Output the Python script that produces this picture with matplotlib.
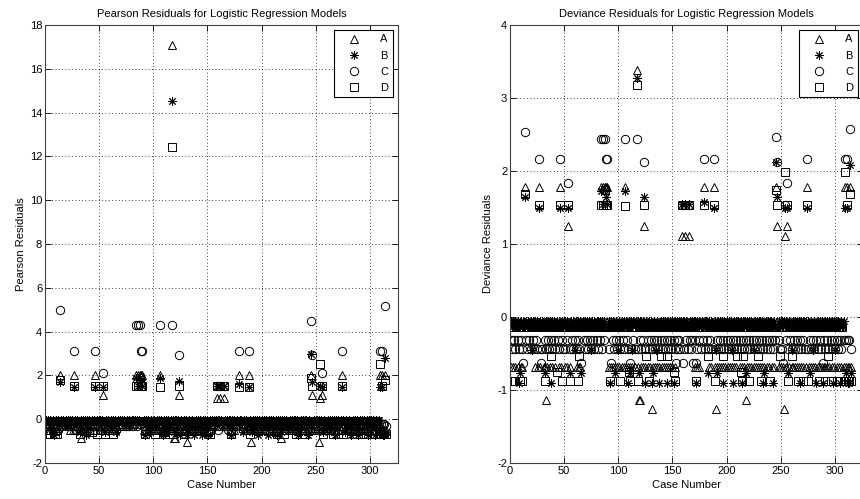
import matplotlib
matplotlib.use("Agg")
import matplotlib.pyplot as plt
import numpy as np

plt.rcParams["font.family"] = ["Liberation Sans", "DejaVu Sans"]
plt.rcParams["axes.unicode_minus"] = False

# cases with y = 1 (positive residuals), shared by both panels
pos_cases = [14, 27, 46, 54, 84, 86, 88, 89, 90, 106, 117, 124, 159, 162, 165,
             179, 188, 246, 247, 254, 256, 274, 309, 311, 314]

pear_pos_a = [2.0, 2.0, 2.0, 1.1, 2.0, 2.0, 2.0, 2.0, 2.0, 2.0, 17.1, 1.1, 0.95, 0.95, 0.95,
              2.0, 2.0, 2.0, 1.1, 0.95, 1.1, 2.0, 2.0, 2.0, 2.0]
pear_pos_b = [1.7, 1.45, 1.45, 1.45, 1.9, 1.5, 1.9, 1.8, 1.5, 1.9, 14.55, 1.75, 1.5, 1.5, 1.5,
              1.6, 1.45, 3.0, 1.7, 1.5, 1.45, 1.45, 1.45, 1.45, 2.8]
pear_pos_c = [4.97, 3.1, 3.1, 2.12, 4.28, 4.28, 4.28, 3.1, 3.1, 4.28, 4.28, 2.92, 1.5, 1.5, 1.5,
              3.1, 3.1, 4.47, 2.92, 1.5, 2.12, 3.1, 3.1, 3.1, 5.15]
pear_pos_d = [1.8, 1.5, 1.5, 1.5, 1.5, 1.5, 1.9, 1.5, 1.5, 1.48, 12.45, 1.5, 1.5, 1.5, 1.5,
              1.48, 1.48, 1.9, 1.5, 2.5, 1.5, 1.5, 2.5, 1.5, 1.8]

dev_pos_a = [1.78, 1.78, 1.78, 1.24, 1.78, 1.78, 1.78, 1.78, 1.78, 1.78, 3.39, 1.25, 1.11, 1.11, 1.11,
             1.78, 1.78, 1.78, 1.25, 1.11, 1.25, 1.78, 1.78, 1.78, 1.78]
dev_pos_b = [1.64, 1.49, 1.49, 1.49, 1.72, 1.55, 1.74, 1.64, 1.55, 1.73, 3.28, 1.65, 1.55, 1.55, 1.55,
             1.58, 1.49, 2.13, 1.65, 1.49, 1.49, 1.49, 1.49, 1.49, 2.08]
dev_pos_c = [2.54, 2.16, 2.16, 1.84, 2.44, 2.44, 2.44, 2.16, 2.16, 2.44, 2.44, 2.13, 1.53, 1.53, 1.53,
             2.16, 2.16, 2.47, 2.13, 1.53, 1.84, 2.16, 2.16, 2.16, 2.58]
dev_pos_d = [1.68, 1.53, 1.53, 1.53, 1.53, 1.53, 1.74, 1.53, 1.53, 1.52, 3.18, 1.53, 1.53, 1.53, 1.53,
             1.53, 1.53, 1.74, 1.53, 1.99, 1.53, 1.53, 1.99, 1.53, 1.68]

# y = 0 cases: level code per case (1..315), '-' = positive case above
codes_a = ("2020212012 200-101010 012102-201 2232012021 02012-2010 "
           "202-210010 1202201010 0101001010 010-0-0--- 2021202120 "
           "21202-2021 202120-233 202-212021 4202120212 0212021202 "
           "12010101-0 0-01-10101 20212010-1 0102120-24 2120212021 "
           "2021202120 1202120320 2120212021 2021202120 12021--202 "
           "024-2-1202 2120212021 202-120212 0212021202 2021202120 "
           "12021202-2 -22-2")
codes_b = ("0101010430 101-010102 010101-010 1301010401 01010-1010 "
           "010-301012 0101030101 0101201010 010-0-0--- 0401013012 "
           "01010-0140 302010-030 010-401010 4301201401 0101401010 "
           "40101010-0 0-01-01010 04010101-0 0130101-02 3010104010 "
           "1010240101 0104010301 0101201010 0104301010 01401--010 "
           "010-0-3012 0101010401 010-013012 0140101041 0101010402 "
           "01014010-3 -44-3")
codes_c = ("1201201201 230-120120 120120-232 0120120120 12012-0120 "
           "201-201201 2012030120 1201201201 201-2-1--- 2030120120 "
           "12012-0120 320120-201 201-201201 2012012012 0120120120 "
           "12312120-3 2-12-12130 13201201-2 0120120-20 1201201201 "
           "2012012012 0120120120 1201201201 2012012012 01201--120 "
           "230-1-2012 0120120120 120-201201 2012012031 2012012012 "
           "01201201-1 -11-2")
codes_d = ("2020200020 200-000000 000000-000 0200000100 00300-0200 "
           "000-200000 0021000000 0000000000 000-0-0--- 0200000000 "
           "02000-0003 200000-200 000-010200 0000000010 0000100000 "
           "32000000-0 0-00-00000 02000000-0 0010000-20 0000001000 "
           "0000000001 0032100000 2000000010 0200000002 00000--010 "
           "000-0-2001 0000020000 200-200000 0000200000 2001020000 "
           "02002002-2 -22-2")

# residual value of each level code
pear_lv_a = [-0.06, -0.10, -0.50, -0.88, -1.03]
pear_lv_b = [-0.05, -0.09, -0.32, -0.58, -0.70]
pear_lv_c = [-0.07, -0.23, -0.32, -0.47]
pear_lv_d = [-0.09, -0.40, -0.66, -0.57]
dev_lv_a = [-0.08, -0.14, -0.68, -1.13, -1.26]
dev_lv_b = [-0.06, -0.12, -0.45, -0.77, -0.90]
dev_lv_c = [-0.10, -0.32, -0.44, -0.63]
dev_lv_d = [-0.13, -0.54, -0.87, -0.75]

labels = ["A", "B", "C", "D"]
markers = ["^", (8, 2, 0), "o", "s"]


def series(codes, levels, pos_vals):
    """codes + positive values -> (case, residual) arrays."""
    codes = codes.replace(" ", "")
    assert len(codes) == 315, len(codes)
    x, y = [], []
    for i, ch in enumerate(codes):
        case = i + 1
        x.append(case)
        if ch == "-":
            y.append(pos_vals[pos_cases.index(case)])
        else:
            y.append(levels[int(ch)])
    return np.array(x), np.array(y)


panels = [
    ("Pearson Residuals for Logistic Regression Models", "Pearson Residuals",
     [(codes_a, pear_lv_a, pear_pos_a), (codes_b, pear_lv_b, pear_pos_b),
      (codes_c, pear_lv_c, pear_pos_c), (codes_d, pear_lv_d, pear_pos_d)],
     (-2, 18), np.arange(-2, 19, 2)),
    ("Deviance Residuals for Logistic Regression Models", "Deviance Residuals",
     [(codes_a, dev_lv_a, dev_pos_a), (codes_b, dev_lv_b, dev_pos_b),
      (codes_c, dev_lv_c, dev_pos_c), (codes_d, dev_lv_d, dev_pos_d)],
     (-2, 4), np.arange(-2, 5, 1)),
]

fig = plt.figure(figsize=(8.6, 4.99), dpi=100)
rects = [[0.0523, 0.0721, 0.4105, 0.8778], [0.593, 0.0721, 0.4105, 0.8778]]

for rect, (title, ylab, data, ylim, yticks) in zip(rects, panels):
    ax = fig.add_axes(rect)
    for (codes, lv, pv), lab, mk in zip(data, labels, markers):
        x, y = series(codes, lv, pv)
        ax.plot(x, y, linestyle="none", marker=mk, ms=6, mfc="none", mec="k",
                mew=0.7, label=lab)
    ax.set_xlim(0, 326)
    ax.set_ylim(*ylim)
    ax.set_xticks(np.arange(0, 301, 50))
    ax.set_yticks(yticks)
    ax.grid(True, color="k", linestyle=(0, (1, 3)), linewidth=0.6)
    ax.tick_params(direction="in", top=True, right=True, labelsize=8, length=4,
                   width=0.6, pad=2)
    for sp in ax.spines.values():
        sp.set_linewidth(0.8)
        sp.set_color("#404040")
    ax.set_title(title, fontsize=8, pad=6)
    ax.set_xlabel("Case Number", fontsize=8, labelpad=3)
    ax.set_ylabel(ylab, fontsize=8, labelpad=3)
    leg = ax.legend(loc="upper right", fontsize=8, fancybox=False, framealpha=1,
                    edgecolor="k", handlelength=2.8, handletextpad=1.0,
                    borderpad=0.4, labelspacing=0.55, borderaxespad=0.45)
    leg.get_frame().set_linewidth(0.8)

fig.savefig("out.png", dpi=100, facecolor="white")
